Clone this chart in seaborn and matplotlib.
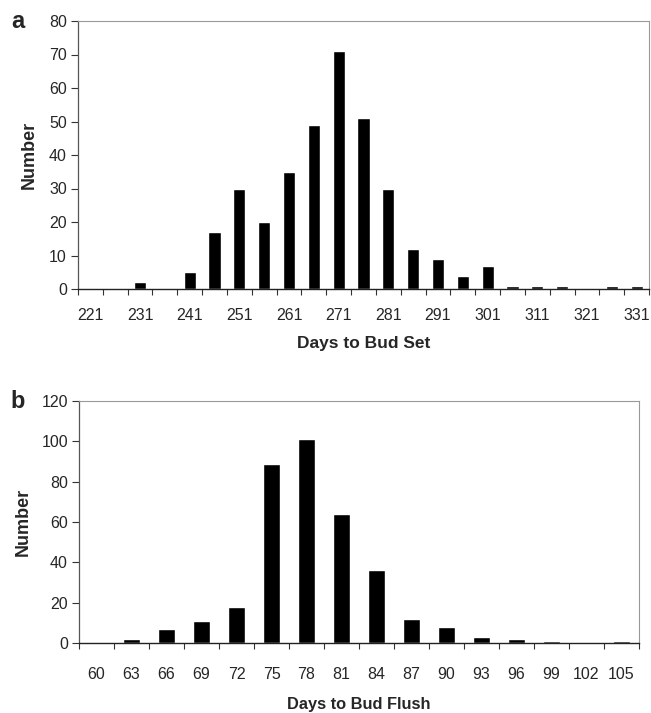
import matplotlib
matplotlib.use("Agg")
import matplotlib.pyplot as plt
import seaborn as sns
import pandas as pd
import numpy as np

# Panel a: days to bud set
set_days = [221, 226, 231, 236, 241, 246, 251, 256, 261, 266, 271, 276,
            281, 286, 291, 296, 301, 306, 311, 316, 321, 326, 331]
set_counts = [0, 0, 2, 0, 5, 17, 30, 20, 35, 49, 71, 51,
              30, 12, 9, 4, 7, 1, 1, 1, 0, 1, 1]
set_labels = [221, 231, 241, 251, 261, 271, 281, 291, 301, 311, 321, 331]

# Panel b: days to bud flush
flush_days = [60, 63, 66, 69, 72, 75, 78, 81, 84, 87, 90, 93, 96, 99, 102, 105]
flush_counts = [0, 2, 7, 11, 18, 89, 101, 64, 36, 12, 8, 3, 2, 1, 0, 1]

sns.set_theme(style="white")
plt.rcParams['font.family'] = ['Liberation Sans', 'DejaVu Sans']

W, H = 651, 713
fig = plt.figure(figsize=(W / 100, H / 100), dpi=100)

def axes_px(l, t, r, b):
    return fig.add_axes([l / W, 1 - b / H, (r - l) / W, (b - t) / H])

ax1 = axes_px(78, 21, 649, 289)
ax2 = axes_px(79, 401, 639, 643)

dfa = pd.DataFrame({"day": [str(d) for d in set_days], "n": set_counts})
dfb = pd.DataFrame({"day": [str(d) for d in flush_days], "n": flush_counts})

sns.barplot(data=dfa, x="day", y="n", order=dfa["day"], color="black",
            width=0.49, ax=ax1, saturation=1)
sns.barplot(data=dfb, x="day", y="n", order=dfb["day"], color="black",
            width=0.46, ax=ax2, saturation=1)

def style(ax, n, ymax, ystep, xlabel, xlsize, lab_pos, lab_txt, letter, lx, ly,
          xpad, xlabpad, ylabpad):
    ax.set_xlim(-0.5, n - 0.5)
    ax.set_ylim(0, ymax)
    ax.set_yticks(np.arange(0, ymax + 1, ystep))
    ax.set_xticks(np.arange(-0.5, n, 1.0))
    ax.set_xticklabels([])
    ax.set_xticks(lab_pos, [str(t) for t in lab_txt], minor=True)
    ax.tick_params(axis="x", which="major", direction="out", length=4,
                   width=0.8, color="#333333", bottom=True)
    ax.tick_params(axis="x", which="minor", length=0, pad=xpad,
                   labelsize=11.5)
    ax.tick_params(axis="y", direction="out", length=5, width=0.8,
                   color="#333333", left=True, labelsize=11.5, pad=3)
    for s in ["top", "right"]:
        ax.spines[s].set_color("#999999")
        ax.spines[s].set_linewidth(0.8)
        ax.spines[s].set_linestyle((0, (4, 1)))
    ax.spines["left"].set_color("#555555")
    ax.spines["left"].set_linewidth(0.9)
    ax.spines["bottom"].set_color("#222222")
    ax.spines["bottom"].set_linewidth(1.0)
    ax.set_ylabel("Number", fontsize=13, fontweight="bold", labelpad=ylabpad)
    ax.set_xlabel(xlabel, fontsize=xlsize, fontweight="bold", labelpad=xlabpad)
    fig.text(lx / W, 1 - ly / H, letter, fontsize=17, fontweight="bold",
             ha="center", va="center")

style(ax1, len(set_days), 80, 10, "Days to Bud Set", 12.5,
      [set_days.index(v) for v in set_labels], set_labels, "a", 18, 21,
      14, 9, 8)
style(ax2, len(flush_days), 120, 20, "Days to Bud Flush", 11.8,
      list(range(len(flush_days))), flush_days, "b", 18, 402,
      17, 11, 7)

fig.savefig("out.png", dpi=100)
